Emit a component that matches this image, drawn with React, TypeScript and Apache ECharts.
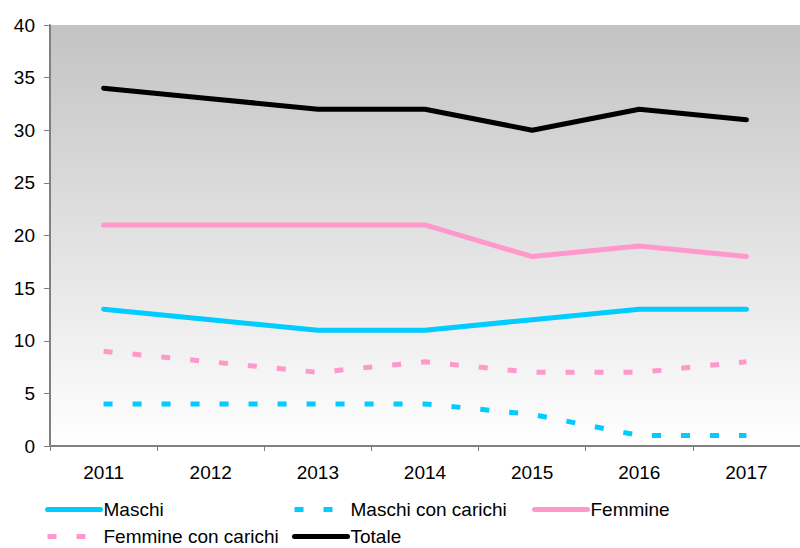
import React, { useEffect, useRef } from "react";
import * as echarts from "echarts";

const years = ["2011", "2012", "2013", "2014", "2015", "2016", "2017"];
const maschi = [13, 12, 11, 11, 12, 13, 13];
const maschiCarichi = [4, 4, 4, 4, 3, 1, 1];
const femmine = [21, 21, 21, 21, 18, 19, 18];
const femmineCarichi = [9, 8, 7, 8, 7, 7, 8];
const totale = [34, 33, 32, 32, 30, 32, 31];

const FONT = "'Liberation Sans', Arial, sans-serif";
const CYAN = "#00CCFF";
const PINK = "#FF99CC";
const DASH = [9, 20];

export default function App() {
  const ref = useRef<HTMLDivElement>(null);
  useEffect(() => {
    if (!ref.current) return;
    const chart = echarts.init(ref.current, null, { renderer: "svg" });
    const mk = (name: string, data: number[], color: string, dashed: boolean) => ({
      name,
      type: "line",
      data,
      symbol: "none",
      lineStyle: { color, width: 5, type: dashed ? DASH : "solid", cap: dashed ? "butt" : "round", join: "round" },
      itemStyle: { color },
    });
    const legendItem = (name: string, left: number, top: number, color: string, dashed: boolean) => ({
      data: [name],
      left,
      top,
      itemWidth: 53,
      itemHeight: 14,
      itemGap: 0,
      padding: 0,
      itemStyle: { color: "rgba(0,0,0,0)", borderWidth: 0, opacity: 0 },
      lineStyle: { color, width: 5, type: dashed ? DASH : "solid", cap: dashed ? "butt" : "round" },
      textStyle: { fontFamily: FONT, fontSize: 19, lineHeight: 19, color: "#000", padding: [0, 0, 0, -2] },
    });
    chart.setOption({
      animation: false,
      textStyle: { fontFamily: FONT },
      grid: {
        left: 50,
        top: 25,
        right: -6,
        bottom: 102,
        show: true,
        borderWidth: 0,
        backgroundColor: new echarts.graphic.LinearGradient(0, 0, 0, 1, [
          { offset: 0, color: "#c3c3c3" },
          { offset: 1, color: "#ffffff" },
        ]),
      },
      legend: [
        legendItem("Maschi", 45, 500, CYAN, false),
        legendItem("Maschi con carichi", 292, 500, CYAN, true),
        legendItem("Femmine", 532, 500, PINK, false),
        legendItem("Femmine con carichi", 45, 527, PINK, true),
        legendItem("Totale", 292, 527, "#000000", false),
      ],
      xAxis: {
        type: "category",
        data: years,
        boundaryGap: true,
        axisLine: { lineStyle: { color: "#808080", width: 2 } },
        axisTick: { show: true, length: 5, lineStyle: { color: "#808080" } },
        axisLabel: { fontSize: 19, color: "#000", margin: 17, fontFamily: FONT },
        splitLine: { show: false },
      },
      yAxis: {
        type: "value",
        min: 0,
        max: 40,
        interval: 5,
        axisLine: { show: true, lineStyle: { color: "#808080", width: 2 } },
        axisTick: { show: true, length: 6, lineStyle: { color: "#808080" } },
        axisLabel: { fontSize: 19, color: "#000", margin: 15, fontFamily: FONT },
        splitLine: { show: false },
      },
      series: [
        mk("Maschi", maschi, CYAN, false),
        mk("Maschi con carichi", maschiCarichi, CYAN, true),
        mk("Femmine", femmine, PINK, false),
        mk("Femmine con carichi", femmineCarichi, PINK, true),
        mk("Totale", totale, "#000000", false),
      ],
    });
    return () => chart.dispose();
  }, []);
  return <div ref={ref} style={{ width: 800, height: 548, position: "absolute", left: 0, top: 0 }} />;
}
